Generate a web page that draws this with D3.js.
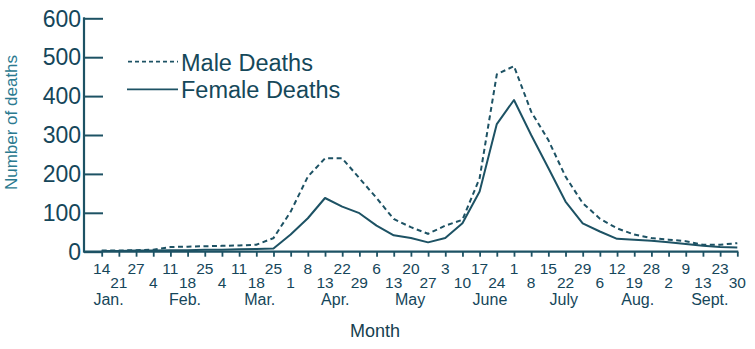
<!DOCTYPE html>
<html>
<head>
<meta charset="utf-8">
<script src="https://cdn.jsdelivr.net/npm/d3@7/dist/d3.min.js"></script>
<style>
  html, body { margin: 0; padding: 0; background: #ffffff; }
  svg { display: block; font-family: "Liberation Sans", Arial, sans-serif; }
</style>
</head>
<body>
<svg id="chart" width="755" height="349"></svg>
<script>
// Weekly tick labels (day of month), in order
const weekLabels = ["14","21","27","4","11","18","25","4","11","18","25","1","8","13","22","29",
  "6","13","20","27","3","10","17","24","1","8","15","22","29","6","12","19","28","2","9","13","23","30"];

// Month names and their position along the week index
const months = ["Jan.","Feb.","Mar.","Apr.","May","June","July","Aug.","Sept."];
const monthPos = [0.4, 4.85, 9.2, 13.6, 17.95, 22.6, 26.9, 31.2, 35.4];

// Weekly deaths
const maleDeaths = [3,3,4,5,12,13,14,15,16,18,35,103,193,240,240,189,138,84,63,46,67,82,189,456,477,
  360,287,193,125,85,60,44,35,31,27,18,18,22];
const femaleDeaths = [2,2,3,3,4,4,5,5,6,7,8,44,86,138,116,99,67,42,35,24,35,73,155,328,390,
  300,215,129,73,52,33,31,28,24,20,15,12,11];

const yTicks = [0,100,200,300,400,500,600];

const ink = "#1d5264";
const svg = d3.select("#chart");

const x = d3.scaleLinear().domain([0, weekLabels.length - 1]).range([101.7, 737.3]);
const y = d3.scaleLinear().domain([0, 600]).range([251.7, 18.3]);
const axisLeft = 84;

// Y axis: line plus inward ticks
const yAxis = svg.append("g").attr("transform", `translate(${axisLeft},0)`)
  .call(d3.axisRight(y).tickValues(yTicks).tickSize(19).tickFormat(""));
yAxis.select(".domain").remove();
yAxis.selectAll(".tick line").attr("stroke", ink).attr("stroke-width", 2);
svg.append("line").attr("x1", axisLeft).attr("x2", axisLeft)
  .attr("y1", y(600) - 1).attr("y2", y(0) + 1)
  .attr("stroke", ink).attr("stroke-width", 2.2);

svg.append("g").selectAll("text").data(yTicks).join("text")
  .attr("x", axisLeft - 3).attr("y", d => y(d)).attr("dy", "0.36em")
  .attr("text-anchor", "end").attr("font-size", 23).attr("fill", "#15465a")
  .text(d => d);

// X axis: baseline and short downward ticks
const xAxis = svg.append("g").attr("transform", `translate(0,${y(0)})`)
  .call(d3.axisBottom(x).tickValues(d3.range(weekLabels.length)).tickSize(5).tickFormat(""));
xAxis.select(".domain").remove();
xAxis.selectAll(".tick line").attr("stroke", ink).attr("stroke-width", 1.8);
svg.append("line").attr("x1", axisLeft).attr("x2", x(weekLabels.length - 1) + 1)
  .attr("y1", y(0)).attr("y2", y(0)).attr("stroke", ink).attr("stroke-width", 2.2);

// Staggered week labels
svg.append("g").selectAll("text").data(weekLabels).join("text")
  .attr("x", (d, i) => x(i)).attr("y", (d, i) => i % 2 === 0 ? 273.5 : 288)
  .attr("text-anchor", "middle").attr("font-size", 15.5).attr("fill", "#15465a")
  .text(d => d);

svg.append("g").selectAll("text").data(months).join("text")
  .attr("x", (d, i) => x(monthPos[i])).attr("y", 305)
  .attr("text-anchor", "middle").attr("font-size", 16).attr("fill", "#15465a")
  .text(d => d);

// Axis titles
svg.append("text").attr("x", 375).attr("y", 336.5).attr("text-anchor", "middle")
  .attr("font-size", 18).attr("fill", "#173f50").text("Month");
svg.append("text").attr("transform", "translate(16.5,122.5) rotate(-90)")
  .attr("text-anchor", "middle").attr("font-size", 17).attr("fill", "#2b7a90")
  .text("Number of deaths");

// Data lines
const line = d3.line().x((d, i) => x(i)).y(d => y(d));
svg.append("path").datum(femaleDeaths).attr("d", line)
  .attr("fill", "none").attr("stroke", ink).attr("stroke-width", 2)
  .attr("stroke-linejoin", "round");
svg.append("path").datum(maleDeaths).attr("d", line)
  .attr("fill", "none").attr("stroke", ink).attr("stroke-width", 2)
  .attr("stroke-dasharray", "5,3.5");

// Legend
const legend = svg.append("g");
legend.append("line").attr("x1", 128).attr("x2", 178).attr("y1", 61.7).attr("y2", 61.7)
  .attr("stroke", ink).attr("stroke-width", 1.7).attr("stroke-dasharray", "4,3");
legend.append("line").attr("x1", 127).attr("x2", 178).attr("y1", 89.3).attr("y2", 89.3)
  .attr("stroke", ink).attr("stroke-width", 1.7);
legend.append("text").attr("x", 181).attr("y", 70.5).attr("font-size", 23.5)
  .attr("fill", "#15485a").text("Male Deaths");
legend.append("text").attr("x", 181).attr("y", 97.7).attr("font-size", 23.5)
  .attr("fill", "#15485a").text("Female Deaths");
</script>
</body>
</html>
